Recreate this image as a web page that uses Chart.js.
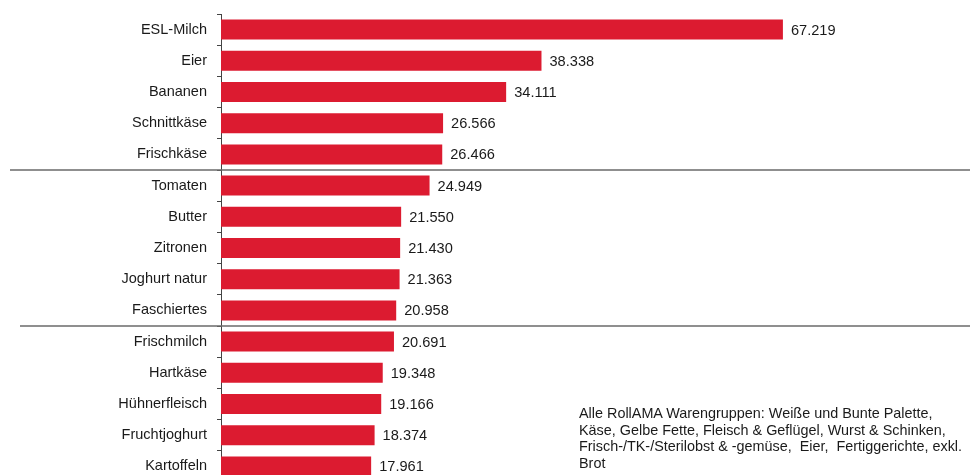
<!DOCTYPE html>
<html>
<head>
<meta charset="utf-8">
<script src="https://cdn.jsdelivr.net/npm/chart.js@4"></script>
<style>
  html, body { margin: 0; padding: 0; background: #fff; }
  body { width: 970px; height: 475px; overflow: hidden; position: relative; }
  #myChart { position: absolute; left: 0; top: 0; }
  #note {
    position: absolute; left: 579px; top: 405px;
    font-family: "Liberation Sans", Arial, sans-serif; font-size: 14.4px;
    line-height: 16.7px; color: #1a1a1a; white-space: pre;
  }
</style>
</head>
<body>
<canvas id="myChart" width="970" height="500"></canvas>
<div id="note"></div>

<script>
/* Top products by value */
const products = ['ESL-Milch', 'Eier', 'Bananen', 'Schnittkäse', 'Frischkäse',
  'Tomaten', 'Butter', 'Zitronen', 'Joghurt natur', 'Faschiertes',
  'Frischmilch', 'Hartkäse', 'Hühnerfleisch', 'Fruchtjoghurt', 'Kartoffeln'];
const amounts = [67219, 38338, 34111, 26566, 26466,
  24949, 21550, 21430, 21363, 20958,
  20691, 19348, 19166, 18374, 17961];
// group separators sit after these indexes
const groupBreaks = [4, 9];
const noteLines = [
  'Alle RollAMA Warengruppen: Weiße und Bunte Palette,',
  'Käse, Gelbe Fette, Fleisch & Geflügel, Wurst & Schinken,',
  'Frisch-/TK-/Sterilobst & -gemüse,  Eier,  Fertiggerichte, exkl.',
  'Brot'
];

document.getElementById('note').textContent = noteLines.join('\n');

const fmt = v => String(v).replace(/\B(?=(\d{3})+(?!\d))/g, '.');

/* numbers to the right of each bar */
const valueLabels = {
  id: 'valueLabels',
  afterDatasetsDraw(chart) {
    const ctx = chart.ctx;
    const meta = chart.getDatasetMeta(0);
    ctx.save();
    ctx.font = '14.6px "Liberation Sans", Arial, sans-serif';
    ctx.fillStyle = '#1a1a1a';
    ctx.textAlign = 'left';
    ctx.textBaseline = 'middle';
    meta.data.forEach((bar, i) => {
      ctx.fillText(fmt(amounts[i]), bar.x + 8, bar.y + 1);
    });
    ctx.restore();
  }
};

/* horizontal lines between the groups of five */
const groupLines = {
  id: 'groupLines',
  afterDraw(chart) {
    const y = chart.scales.y;
    const ctx = chart.ctx;
    ctx.save();
    ctx.strokeStyle = '#6a6a6a';
    ctx.lineWidth = 1.5;
    groupBreaks.forEach((idx, k) => {
      const py = (y.getPixelForValue(idx) + y.getPixelForValue(idx + 1)) / 2;
      ctx.beginPath();
      ctx.moveTo(k === 0 ? 10 : 20, py);
      ctx.lineTo(chart.width, py);
      ctx.stroke();
    });
    ctx.restore();
  }
};

function initChart() {
  const ctx = document.getElementById('myChart');
  new Chart(ctx, {
    type: 'bar',
    data: {
      labels: products,
      datasets: [{
        data: amounts,
        backgroundColor: '#dc1b30',
        borderWidth: 0,
        barPercentage: 0.64,
        categoryPercentage: 1
      }]
    },
    options: {
      indexAxis: 'y',
      responsive: false,
      animation: false,
      layout: { padding: { top: 14, right: 0, bottom: 18, left: 0 } },
      plugins: { legend: { display: false }, tooltip: { enabled: false } },
      scales: {
        x: {
          display: false,
          min: 0,
          max: 89600
        },
        y: {
          afterFit(scale) {
            scale.width = 221;
            // no extra room for half-labels at the ends
            scale.paddingTop = 0;
            scale.paddingBottom = 0;
          },
          grid: {
            offset: true,
            drawOnChartArea: false,
            drawTicks: true,
            tickLength: 4,
            color: '#444'
          },
          border: { display: true, color: '#444', width: 1 },
          ticks: {
            padding: 10,
            color: '#1a1a1a',
            font: { family: '"Liberation Sans", Arial, sans-serif', size: 14.5 }
          }
        }
      }
    },
    plugins: [valueLabels, groupLines]
  });
}

initChart()
</script>
</body>
</html>
